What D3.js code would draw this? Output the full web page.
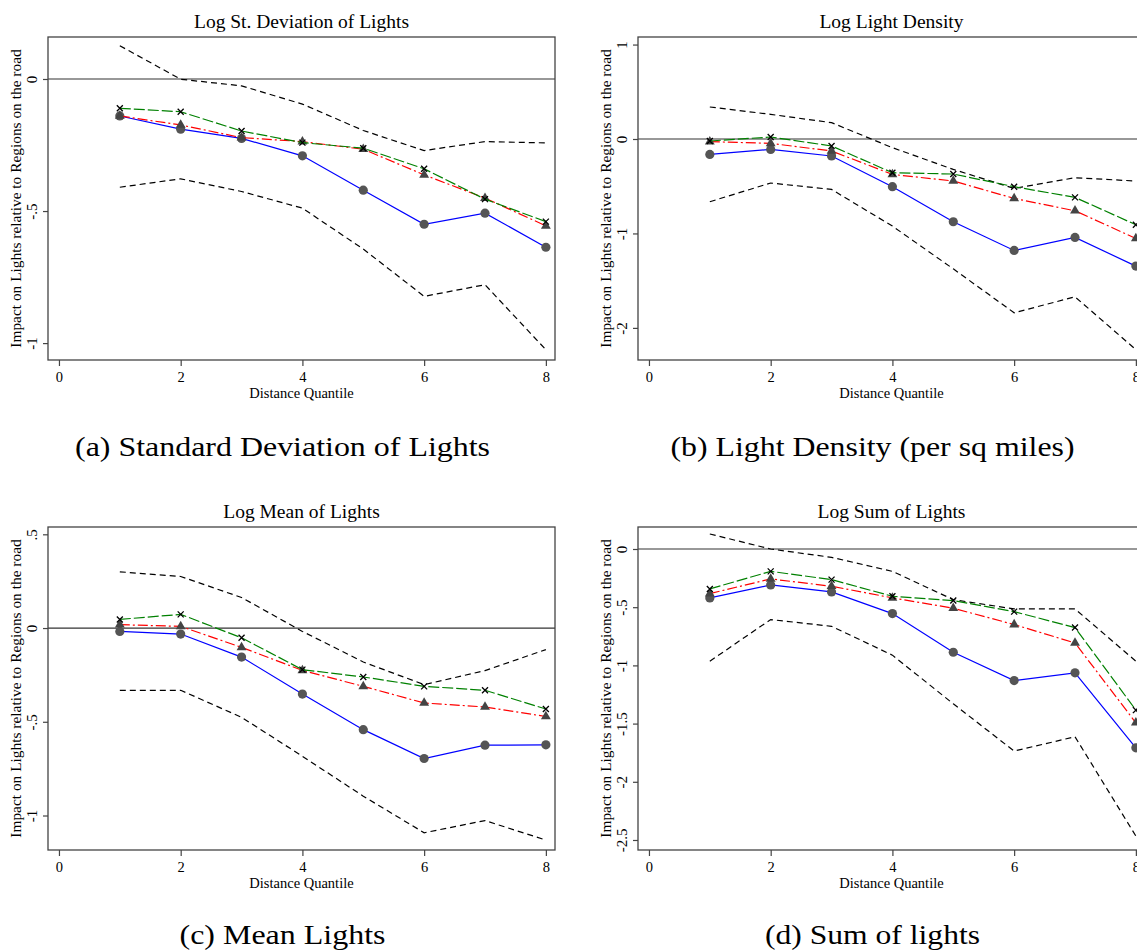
<!DOCTYPE html>
<html>
<head>
<meta charset="utf-8">
<script src="https://cdn.jsdelivr.net/npm/d3@7"></script>
<style>
  body { margin: 0; background: #fff; }
  svg { display: block; }
  text { font-family: "Liberation Serif", "Times New Roman", serif; fill: #000; }
</style>
</head>
<body>
<div id="viz"></div>
<script>
// values, one array per line
var quantile = [1, 2, 3, 4, 5, 6, 7, 8];
var xTicks = [0, 2, 4, 6, 8];

// (a) log st. deviation
var sdBase = [-0.140, -0.190, -0.225, -0.291, -0.421, -0.550, -0.508, -0.637];
var sdCtrl = [-0.140, -0.174, -0.222, -0.237, -0.266, -0.363, -0.451, -0.556];
var sdFull = [-0.111, -0.124, -0.197, -0.241, -0.262, -0.340, -0.455, -0.540];
var sdHi   = [0.126, -0.001, -0.026, -0.095, -0.195, -0.271, -0.237, -0.242];
var sdLo   = [-0.410, -0.378, -0.426, -0.489, -0.644, -0.823, -0.779, -1.025];
var sdTicks = [0, -0.5, -1];

// (b) log light density
var denBase = [-0.163, -0.110, -0.180, -0.505, -0.876, -1.180, -1.042, -1.346];
var denCtrl = [-0.028, -0.046, -0.127, -0.375, -0.445, -0.629, -0.760, -1.053];
var denFull = [-0.021, 0.021, -0.074, -0.357, -0.371, -0.505, -0.618, -0.908];
var denHi   = [0.339, 0.261, 0.173, -0.092, -0.322, -0.523, -0.410, -0.445];
var denLo   = [-0.664, -0.466, -0.534, -0.922, -1.375, -1.840, -1.671, -2.230];
var denTicks = [1, 0, -1, -2];

// (c) log mean
var meanBase = [-0.018, -0.032, -0.155, -0.352, -0.542, -0.696, -0.625, -0.623];
var meanCtrl = [0.018, 0.009, -0.103, -0.226, -0.311, -0.400, -0.421, -0.472];
var meanFull = [0.046, 0.073, -0.052, -0.222, -0.261, -0.311, -0.332, -0.432];
var meanHi   = [0.300, 0.275, 0.163, -0.018, -0.181, -0.302, -0.227, -0.115];
var meanLo   = [-0.332, -0.332, -0.476, -0.684, -0.897, -1.092, -1.027, -1.131];
var meanTicks = [0.5, 0, -0.5, -1];

// (d) log sum
var sumBase = [-0.420, -0.309, -0.369, -0.555, -0.887, -1.130, -1.064, -1.708];
var sumCtrl = [-0.383, -0.257, -0.320, -0.420, -0.509, -0.649, -0.807, -1.493];
var sumFull = [-0.343, -0.192, -0.263, -0.406, -0.443, -0.538, -0.675, -1.384];
var sumHi   = [0.129, 0.000, -0.072, -0.192, -0.435, -0.515, -0.515, -0.964];
var sumLo   = [-0.964, -0.606, -0.664, -0.912, -1.330, -1.736, -1.613, -2.466];
var sumTicks = [0, -0.5, -1, -1.5, -2, -2.5];

var panels = [
  { title: 'Log St. Deviation of Lights', caption: '(a) Standard Deviation of Lights', capW: 415,
    left: 48, top: 37, yDom: [-1.064, 0.159], ticks: sdTicks,
    base: sdBase, ctrl: sdCtrl, full: sdFull, hi: sdHi, lo: sdLo, capY: 456 },
  { title: 'Log Light Density', caption: '(b) Light Density (per sq miles)', capW: 404,
    left: 638, top: 37, yDom: [-2.34, 1.08], ticks: denTicks,
    base: denBase, ctrl: denCtrl, full: denFull, hi: denHi, lo: denLo, capY: 456 },
  { title: 'Log Mean of Lights', caption: '(c) Mean Lights', capW: 206,
    left: 48, top: 527, yDom: [-1.184, 0.539], ticks: meanTicks,
    base: meanBase, ctrl: meanCtrl, full: meanFull, hi: meanHi, lo: meanLo, capY: 944 },
  { title: 'Log Sum of Lights', caption: '(d) Sum of lights', capW: 215,
    left: 638, top: 527, yDom: [-2.586, 0.189], ticks: sumTicks,
    base: sumBase, ctrl: sumCtrl, full: sumFull, hi: sumHi, lo: sumLo, capY: 944 }
];

var width = 507, height = 323;
var axisCol = '#444';

var svg = d3.select('#viz').append('svg')
  .attr('width', 1137)
  .attr('height', 950);

svg.append('rect').attr('width', 1137).attr('height', 950).attr('fill', '#fff');

function fmt(v) {
  // stata style: -.5, .5
  return String(v).replace('0.', '.');
}

panels.forEach(function(p) {
  var xScale = d3.scaleLinear().domain([-0.18, 8.15]).range([0, width]);
  var yScale = d3.scaleLinear().domain(p.yDom).range([height, 0]);

  var g = svg.append('g')
    .attr('transform', 'translate(' + p.left + ',' + p.top + ')');

  // title
  g.append('text')
    .attr('x', width / 2)
    .attr('y', -9)
    .attr('text-anchor', 'middle')
    .style('font-size', '19.5px')
    .text(p.title);

  // caption below
  svg.append('text')
    .attr('x', p.left + width / 2 - 19)
    .attr('y', p.capY)
    .attr('text-anchor', 'middle')
    .attr('textLength', p.capW)
    .attr('lengthAdjust', 'spacingAndGlyphs')
    .style('font-size', '28px')
    .text(p.caption);

  // zero line
  g.append('line')
    .attr('x1', 0).attr('x2', width)
    .attr('y1', yScale(0)).attr('y2', yScale(0))
    .attr('stroke', '#333').attr('stroke-width', 1.2);

  var line = function(vals) {
    return d3.line()
      .x(function(d, i) { return xScale(quantile[i]); })
      .y(function(d) { return yScale(d); })(vals);
  };

  // confidence bands
  [p.hi, p.lo].forEach(function(s) {
    g.append('path')
      .attr('d', line(s))
      .attr('fill', 'none')
      .attr('stroke', '#000')
      .attr('stroke-width', 1.2)
      .attr('stroke-dasharray', '6,4');
  });

  // baseline, blue with circles
  g.append('path').attr('d', line(p.base))
    .attr('fill', 'none').attr('stroke', '#0000ff').attr('stroke-width', 1.2);
  g.selectAll('.circ').data(p.base).enter().append('circle')
    .attr('cx', function(d, i) { return xScale(quantile[i]); })
    .attr('cy', function(d) { return yScale(d); })
    .attr('r', 4.6)
    .attr('fill', '#555');

  // red dash-dot with triangles
  g.append('path').attr('d', line(p.ctrl))
    .attr('fill', 'none').attr('stroke', '#ff0000').attr('stroke-width', 1.2)
    .attr('stroke-dasharray', '10,3,2,3');
  g.selectAll('.tri').data(p.ctrl).enter().append('path')
    .attr('d', d3.symbol().type(d3.symbolTriangle).size(42))
    .attr('transform', function(d, i) {
      return 'translate(' + xScale(quantile[i]) + ',' + yScale(d) + ')';
    })
    .attr('fill', '#444');

  // green long dash with x
  g.append('path').attr('d', line(p.full))
    .attr('fill', 'none').attr('stroke', '#008000').attr('stroke-width', 1.2)
    .attr('stroke-dasharray', '11,3');
  g.selectAll('.xm').data(p.full).enter().append('path')
    .attr('d', 'M-3,-3L3,3M-3,3L3,-3')
    .attr('transform', function(d, i) {
      return 'translate(' + xScale(quantile[i]) + ',' + yScale(d) + ')';
    })
    .attr('stroke', '#000').attr('stroke-width', 1.3).attr('fill', 'none');

  // box
  g.append('rect')
    .attr('width', width).attr('height', height)
    .attr('fill', 'none').attr('stroke', axisCol).attr('stroke-width', 1.3);

  // y axis
  var yAxis = g.append('g')
    .call(d3.axisLeft(yScale).tickValues(p.ticks).tickFormat(fmt).tickSize(5).tickSizeOuter(0));
  yAxis.select('.domain').remove();
  yAxis.selectAll('line').attr('stroke', axisCol).attr('stroke-width', 1.2);
  yAxis.selectAll('text')
    .attr('transform', 'rotate(-90)')
    .attr('x', 0).attr('y', -11).attr('dy', 0)
    .attr('text-anchor', 'middle')
    .style('font-family', '"Liberation Serif", serif')
    .style('font-size', '15px');

  // x axis
  var xAxis = g.append('g')
    .attr('transform', 'translate(0,' + height + ')')
    .call(d3.axisBottom(xScale).tickValues(xTicks).tickSize(6).tickSizeOuter(0));
  xAxis.select('.domain').remove();
  xAxis.selectAll('line').attr('stroke', axisCol).attr('stroke-width', 1.2);
  xAxis.selectAll('text')
    .attr('y', 22).attr('dy', 0)
    .style('font-family', '"Liberation Serif", serif')
    .style('font-size', '14.5px');

  // axis titles
  g.append('text')
    .attr('x', width / 2)
    .attr('y', height + 38)
    .attr('text-anchor', 'middle')
    .style('font-size', '14.5px')
    .text('Distance Quantile');

  g.append('text')
    .attr('transform', 'translate(-27,' + height / 2 + ') rotate(-90)')
    .attr('text-anchor', 'middle')
    .style('font-size', '15.4px')
    .text('Impact on Lights relative to Regions on the road');
});
</script>
</body>
</html>
